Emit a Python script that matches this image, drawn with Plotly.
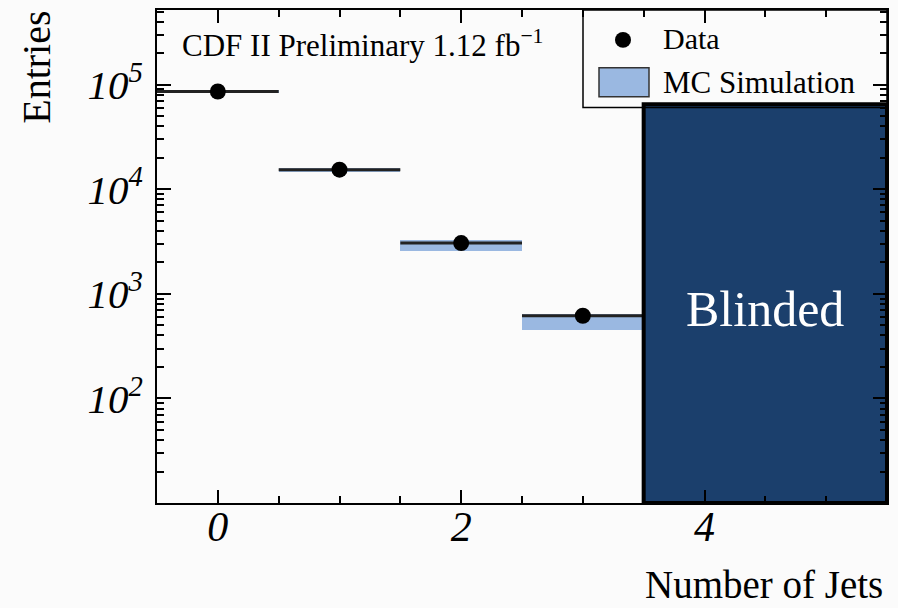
import math
import plotly.graph_objects as go

# ---- data ----
n_jets = [0, 1, 2, 3]
data_entries = [86000, 15400, 3060, 617]
mc_low = [84000, 14600, 2560, 455]
mc_high = [88000, 15800, 3250, 640]
blind_from, blind_to = 3.5, 5.5
blind_top = 65000
y_min_log, y_max_log = 1.0, 5.714
y_tickvals = [100, 1000, 10000, 100000]
y_ticktext = ["10<sup>2</sup>", "10<sup>3</sup>", "10<sup>4</sup>", "10<sup>5</sup>"]
x_tickvals = [0, 2, 4]
x_ticktext = ["0", "2", "4"]

SERIF = "Liberation Serif"
BG = "#fbfbfb"
MC_BLUE = "#9ab8e1"
NAVY = "#1b3f6c"

fig = go.Figure()

fig.add_trace(go.Bar(
    x=n_jets,
    y=[h - l for h, l in zip(mc_high, mc_low)],
    base=mc_low,
    width=1.0,
    marker=dict(color=MC_BLUE, line=dict(width=0)),
    name="MC Simulation",
    showlegend=False,
))

fig.add_trace(go.Scatter(
    x=n_jets, y=data_entries, mode="markers",
    marker=dict(size=16, color="black"),
    error_x=dict(type="constant", value=0.5, width=0, thickness=3, color="#222222"),
    name="Data", showlegend=False,
))

# blinded region (drawn over the data)
y_bottom = 10 ** y_min_log
fig.add_trace(go.Scatter(
    x=[blind_from, blind_to, blind_to, blind_from, blind_from],
    y=[y_bottom, y_bottom, blind_top, blind_top, y_bottom],
    mode="lines", fill="toself", fillcolor=NAVY,
    line=dict(color="black", width=4),
    hoverinfo="skip", showlegend=False,
))

# plot geometry (pixels) for paper-coordinate helpers
L, R, T, B = 157, 887, 8, 503
W, H = 898, 608
def px(xp):
    return (xp - L) / (R - L)
def py(yp):
    return (B - yp) / (B - T)

shapes = []
# legend box
shapes.append(dict(type="rect", xref="paper", yref="paper", x0=px(583), x1=1.0,
                   y0=py(106), y1=1.0, line=dict(color="black", width=1.5),
                   fillcolor="rgba(0,0,0,0)", layer="above"))
# legend data marker
shapes.append(dict(type="circle", xref="paper", yref="paper", x0=px(615), x1=px(631),
                   y0=py(46), y1=py(30), line=dict(color="black", width=0),
                   fillcolor="black", layer="above"))
# legend MC swatch
shapes.append(dict(type="rect", xref="paper", yref="paper", x0=px(599), x1=px(649),
                   y0=py(95), y1=py(66), line=dict(color="#333333", width=1.5),
                   fillcolor=MC_BLUE, layer="above"))

annotations = [
    dict(text="Data", xref="paper", yref="paper", x=px(661), y=py(37),
         xanchor="left", yanchor="middle", showarrow=False,
         font=dict(family=SERIF, size=30, color="black")),
    dict(text="MC Simulation", xref="paper", yref="paper", x=px(661), y=py(81),
         xanchor="left", yanchor="middle", showarrow=False,
         font=dict(family=SERIF, size=31, color="black")),
    dict(text="CDF II Preliminary 1.12 fb<sup>−1</sup>", xref="paper", yref="paper",
         x=px(180), y=py(42), xanchor="left", yanchor="middle", showarrow=False,
         font=dict(family=SERIF, size=31, color="black")),
    dict(text="Blinded", xref="x", yref="y", x=(blind_from + blind_to) / 2,
         y=(y_min_log + math.log10(blind_top)) / 2 - 0.05,
         xanchor="center", yanchor="middle", showarrow=False,
         font=dict(family=SERIF, size=50, color="white")),
    dict(text="Entries", xref="paper", yref="paper", x=px(37), y=py(66),
         xanchor="center", yanchor="middle", textangle=-90, showarrow=False,
         font=dict(family=SERIF, size=40, color="black")),
    dict(text="Number of Jets", xref="paper", yref="paper", x=px(885), y=py(585),
         xanchor="right", yanchor="middle", showarrow=False,
         font=dict(family=SERIF, size=39, color="black")),
]

fig.update_layout(
    width=W, height=H,
    margin=dict(l=L, r=W - R, t=T, b=H - B),
    paper_bgcolor=BG, plot_bgcolor=BG,
    showlegend=False,
    shapes=shapes, annotations=annotations,
    bargap=0,
)

fig.update_xaxes(
    range=[-0.5, 5.5], showgrid=False, zeroline=False,
    showline=True, linecolor="black", linewidth=2, mirror="ticks",
    ticks="inside", ticklen=13, tickwidth=2, tickcolor="black",
    tickvals=x_tickvals, ticktext=x_ticktext,
    tickfont=dict(family=SERIF, size=42, style="italic", color="black"),
    ticklabelstandoff=-14,
    minor=dict(ticks="inside", ticklen=7, tickwidth=1.5, tickcolor="black",
               tick0=0, dtick=0.5, showgrid=False),
)

fig.update_yaxes(
    type="log", range=[y_min_log, y_max_log], showgrid=False, zeroline=False,
    showline=True, linecolor="black", linewidth=2, mirror="ticks",
    ticks="inside", ticklen=14, tickwidth=2, tickcolor="black",
    tickvals=y_tickvals, ticktext=y_ticktext,
    tickfont=dict(family=SERIF, size=41, style="italic", color="black"),
    ticklabelstandoff=4,
    minor=dict(ticks="inside", ticklen=7, tickwidth=1.5, tickcolor="black",
               tickvals=[m * 10 ** e for e in range(1, 6) for m in range(2, 10)],
               showgrid=False),
)

fig.write_html(
    "out.html",
    config={"displayModeBar": False},
    post_script="document.body.style.margin='0';document.body.style.background='#fbfbfb';",
)
